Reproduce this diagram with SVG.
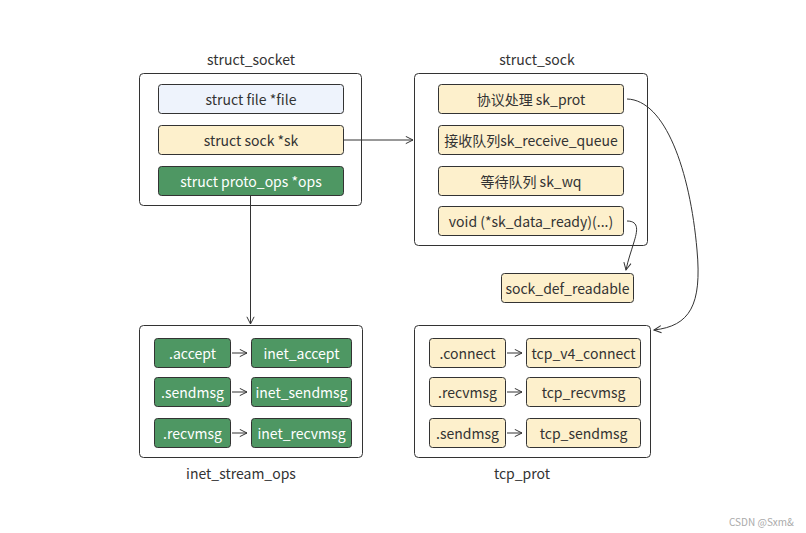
<svg xmlns="http://www.w3.org/2000/svg" width="806" height="533" viewBox="0 0 806 533">
<style>
text{font-family:"Noto Sans CJK SC","Noto Sans",sans-serif;font-size:14px;fill:#333;text-anchor:middle;dominant-baseline:central}
.frame{fill:#fff;stroke:#333;stroke-width:1}
.b{fill:#eef3fc;stroke:#333;stroke-width:1}
.y{fill:#fdf0cc;stroke:#333;stroke-width:1}
.g{fill:#4e9763;stroke:#333;stroke-width:1}
.wt{fill:#fff}
.c{fill:none;stroke:#333;stroke-width:1;marker-end:url(#ah)}
.t{font-size:14px}
.wm{font-size:10px;fill:#aaa;text-anchor:start}
</style>
<defs>
<marker id="ah" viewBox="0 0 10 10" refX="9" refY="5" markerWidth="9" markerHeight="9" markerUnits="userSpaceOnUse" orient="auto">
<path d="M1,1 L9,5 L1,9" fill="none" stroke="#333" stroke-width="1.1"/>
</marker>
</defs>
<rect width="806" height="533" fill="#fff"/>

<g id="struct_socket">
<text x="251" y="59" class="t">struct_socket</text>
<rect class="frame" x="139.5" y="73.5" width="222" height="132" rx="4"/>
<g id="file"><rect class="b" x="158.5" y="84.5" width="185" height="29" rx="3"/><text x="251" y="99">struct file *file</text></g>
<g id="sk"><rect class="y" x="158.5" y="125.5" width="185" height="29" rx="3"/><text x="251" y="140">struct sock *sk</text></g>
<g id="ops"><rect class="g" x="158.5" y="166.5" width="185" height="29" rx="3"/><text class="wt" x="251" y="181">struct proto_ops *ops</text></g>
</g>

<g id="struct_sock">
<text x="537" y="59" class="t">struct_sock</text>
<rect class="frame" x="414.5" y="73.5" width="233" height="172" rx="4"/>
<g id="sk_prot"><rect class="y" x="438.5" y="84.5" width="185" height="29" rx="3"/><text x="531" y="99">协议处理 sk_prot</text></g>
<g id="sk_receive_queue"><rect class="y" x="438.5" y="125.5" width="185" height="29" rx="3"/><text x="531" y="140">接收队列sk_receive_queue</text></g>
<g id="sk_wq"><rect class="y" x="438.5" y="166.5" width="185" height="29" rx="3"/><text x="531" y="181">等待队列 sk_wq</text></g>
<g id="sk_data_ready"><rect class="y" x="438.5" y="206.5" width="185" height="29" rx="3"/><text x="531" y="221">void (*sk_data_ready)(...)</text></g>
</g>

<g id="sock_def_readable">
<rect class="y" x="501.5" y="273.5" width="132" height="29" rx="3"/><text x="567.5" y="288">sock_def_readable</text>
</g>

<g id="inet_stream_ops">
<rect class="frame" x="139.5" y="325.5" width="223" height="132" rx="4"/>
<text x="241" y="473" class="t">inet_stream_ops</text>
<g id="accept"><rect class="g" x="154.5" y="338.5" width="76" height="29" rx="3"/><text class="wt" x="192.5" y="353">.accept</text></g>
<g id="inet_accept"><rect class="g" x="251.5" y="338.5" width="100" height="29" rx="3"/><text class="wt" x="301.5" y="353">inet_accept</text></g>
<g id="sendmsg1"><rect class="g" x="154.5" y="377.5" width="76" height="29" rx="3"/><text class="wt" x="192.5" y="392">.sendmsg</text></g>
<g id="inet_sendmsg"><rect class="g" x="251.5" y="377.5" width="100" height="29" rx="3"/><text class="wt" x="301.5" y="392">inet_sendmsg</text></g>
<g id="recvmsg1"><rect class="g" x="154.5" y="418.5" width="76" height="29" rx="3"/><text class="wt" x="192.5" y="433">.recvmsg</text></g>
<g id="inet_recvmsg"><rect class="g" x="251.5" y="418.5" width="100" height="29" rx="3"/><text class="wt" x="301.5" y="433">inet_recvmsg</text></g>
</g>

<g id="tcp_prot">
<rect class="frame" x="414.5" y="325.5" width="236" height="132" rx="4"/>
<text x="522" y="473" class="t">tcp_prot</text>
<g id="connect"><rect class="y" x="429.5" y="338.5" width="76" height="29" rx="3"/><text x="467.5" y="353">.connect</text></g>
<g id="tcp_v4_connect"><rect class="y" x="526.5" y="338.5" width="114" height="29" rx="3"/><text x="583.5" y="353">tcp_v4_connect</text></g>
<g id="recvmsg2"><rect class="y" x="429.5" y="377.5" width="76" height="29" rx="3"/><text x="467.5" y="392">.recvmsg</text></g>
<g id="tcp_recvmsg"><rect class="y" x="526.5" y="377.5" width="114" height="29" rx="3"/><text x="583.5" y="392">tcp_recvmsg</text></g>
<g id="sendmsg2"><rect class="y" x="429.5" y="418.5" width="76" height="29" rx="3"/><text x="467.5" y="433">.sendmsg</text></g>
<g id="tcp_sendmsg"><rect class="y" x="526.5" y="418.5" width="114" height="29" rx="3"/><text x="583.5" y="433">tcp_sendmsg</text></g>
</g>

<g id="connectors">
<path class="c" d="M344,140 L413,140"/>
<path class="c" d="M250.5,196 L250.5,324"/>
<path class="c" d="M232,353 L247,353"/>
<path class="c" d="M232,392 L247,392"/>
<path class="c" d="M232,433 L247,433"/>
<path class="c" d="M507,353 L522,353"/>
<path class="c" d="M507,392 L522,392"/>
<path class="c" d="M507,433 L522,433"/>
<path class="c" d="M627,221 C640,221 637,232 634,242 C631,252 628,260 626,270"/>
<path class="c" d="M627,99 C665,100 690,170 697,250 C702,305 690,326 654,330"/>
</g>

<text class="wm" x="729" y="521">CSDN @Sxm&amp;</text>
</svg>
